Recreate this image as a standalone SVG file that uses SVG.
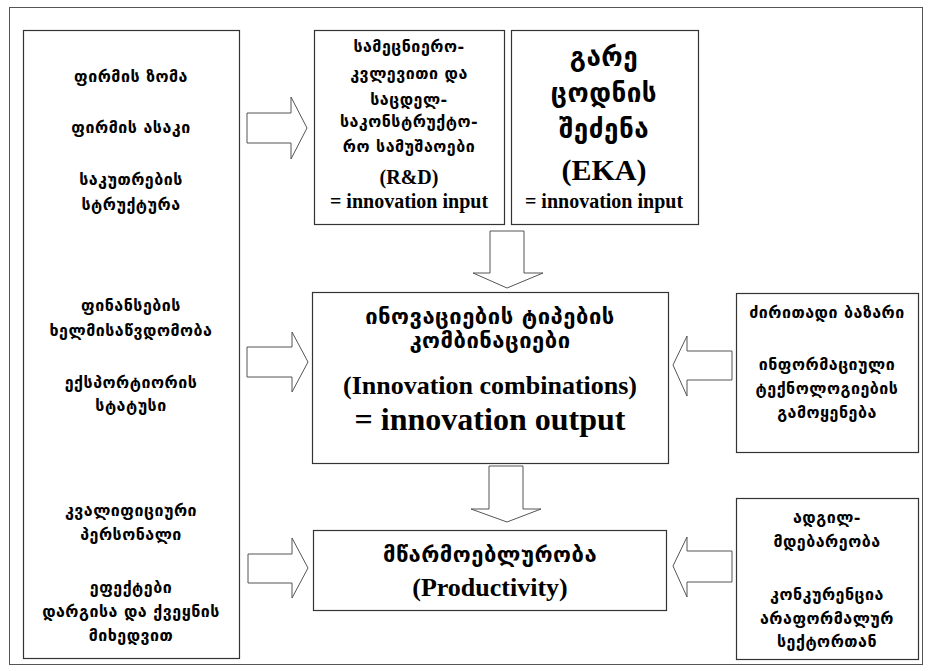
<svg xmlns="http://www.w3.org/2000/svg" width="931" height="671" viewBox="0 0 931 671">
<style>
.frame{fill:none;stroke:#555;stroke-width:1}
.box{fill:#fff;stroke:#333;stroke-width:1.2}
.arr{fill:#fff;stroke:#555;stroke-width:1}
.ka{font-family:"DejaVu Sans",sans-serif;font-weight:bold;fill:#000;text-anchor:middle;letter-spacing:0.5px}
</style>
<rect width="931" height="671" fill="#fff"/>
<rect class="frame" x="9.5" y="7.5" width="913" height="657"/>

<g id="connectors">
<polygon class="arr" points="247,113 291,113 291,97 307,128 291,159 291,143 247,143"/>
<polygon class="arr" points="247,347 292,347 292,332 308,362 292,392 292,377 247,377"/>
<polygon class="arr" points="248,554 292,554 292,538 308,568 292,598 292,583 248,583"/>
<polygon class="arr" points="490,231 524,231 524,273 543,273 507,288 473,273 490,273"/>
<polygon class="arr" points="489,466 523,466 523,509 541,509 507,522 471,509 489,509"/>
<polygon class="arr" points="732,351 687,351 687,336 673,365 687,396 687,380 732,380"/>
<polygon class="arr" points="732,551 687,551 687,537 673,566 687,597 687,582 732,582"/>
</g>

<g id="firm-factors">
<rect class="box" x="23.5" y="30.5" width="216" height="628"/>
<g class="ka" font-size="16">
<text x="131" y="82">ფირმის ზომა</text>
<text x="131" y="133">ფირმის ასაკი</text>
<text x="131" y="185">საკუთრების</text>
<text x="131" y="210">სტრუქტურა</text>
<text x="131" y="311">ფინანსების</text>
<text x="131" y="336">ხელმისაწვდომობა</text>
<text x="131" y="388">ექსპორტიორის</text>
<text x="131" y="411">სტატუსი</text>
<text x="131" y="516">კვალიფიციური</text>
<text x="131" y="540">პერსონალი</text>
<text x="131" y="593">ეფექტები</text>
<text x="131" y="617">დარგისა და ქვეყნის</text>
<text x="131" y="641">მიხედვით</text>
</g>
</g>

<g id="rnd">
<rect class="box" x="314.5" y="30.5" width="190" height="194"/>
<g class="ka" font-size="16">
<text x="409" y="52">სამეცნიერო-</text>
<text x="409" y="79">კვლევითი და</text>
<text x="409" y="105">საცდელ-</text>
<text x="409" y="127">საკონსტრუქტო-</text>
<text x="409" y="152">რო სამუშაოები</text>
</g>
<g font-family="Liberation Serif, serif" font-weight="bold" text-anchor="middle" fill="#000" font-size="20">
<text x="409" y="184">(R&amp;D)</text>
<text x="409" y="208">= innovation input</text>
</g>
</g>

<g id="eka">
<rect class="box" x="511.5" y="30.5" width="187" height="194"/>
<g class="ka" font-size="26" letter-spacing="1.5">
<text x="604" y="66">გარე</text>
<text x="604" y="102">ცოდნის</text>
<text x="604" y="138">შეძენა</text>
</g>
<g font-family="Liberation Serif, serif" font-weight="bold" text-anchor="middle" fill="#000">
<text x="604" y="180" font-size="30">(EKA)</text>
<text x="604" y="208" font-size="20">= innovation input</text>
</g>
</g>

<g id="innovation-combinations">
<rect class="box" x="312.5" y="292.5" width="356" height="171"/>
<g class="ka" font-size="22">
<text x="490" y="324">ინოვაციების  ტიპების</text>
<text x="490" y="348">კომბინაციები</text>
</g>
<g font-family="Liberation Serif, serif" font-weight="bold" text-anchor="middle" fill="#000">
<text x="490" y="394" font-size="26">(Innovation combinations)</text>
<text x="490" y="430" font-size="32">= innovation output</text>
</g>
</g>

<g id="market">
<rect class="box" x="736.5" y="293.5" width="182" height="159"/>
<g class="ka" font-size="16" letter-spacing="0">
<text x="827" y="318">ძირითადი ბაზარი</text>
<text x="827" y="370">ინფორმაციული</text>
<text x="827" y="394">ტექნოლოგიების</text>
<text x="827" y="418">გამოყენება</text>
</g>
</g>

<g id="productivity">
<rect class="box" x="313.5" y="530.5" width="353" height="80"/>
<text class="ka" x="490" y="562" font-size="22">მწარმოებლურობა</text>
<text x="490" y="596" font-size="26" font-family="Liberation Serif, serif" font-weight="bold" text-anchor="middle" fill="#000">(Productivity)</text>
</g>

<g id="location">
<rect class="box" x="736.5" y="498.5" width="182" height="161"/>
<g class="ka" font-size="16">
<text x="827" y="523">ადგილ-</text>
<text x="827" y="547">მდებარეობა</text>
<text x="827" y="600">კონკურენცია</text>
<text x="827" y="624">არაფორმალურ</text>
<text x="827" y="647">სექტორთან</text>
</g>
</g>
</svg>
